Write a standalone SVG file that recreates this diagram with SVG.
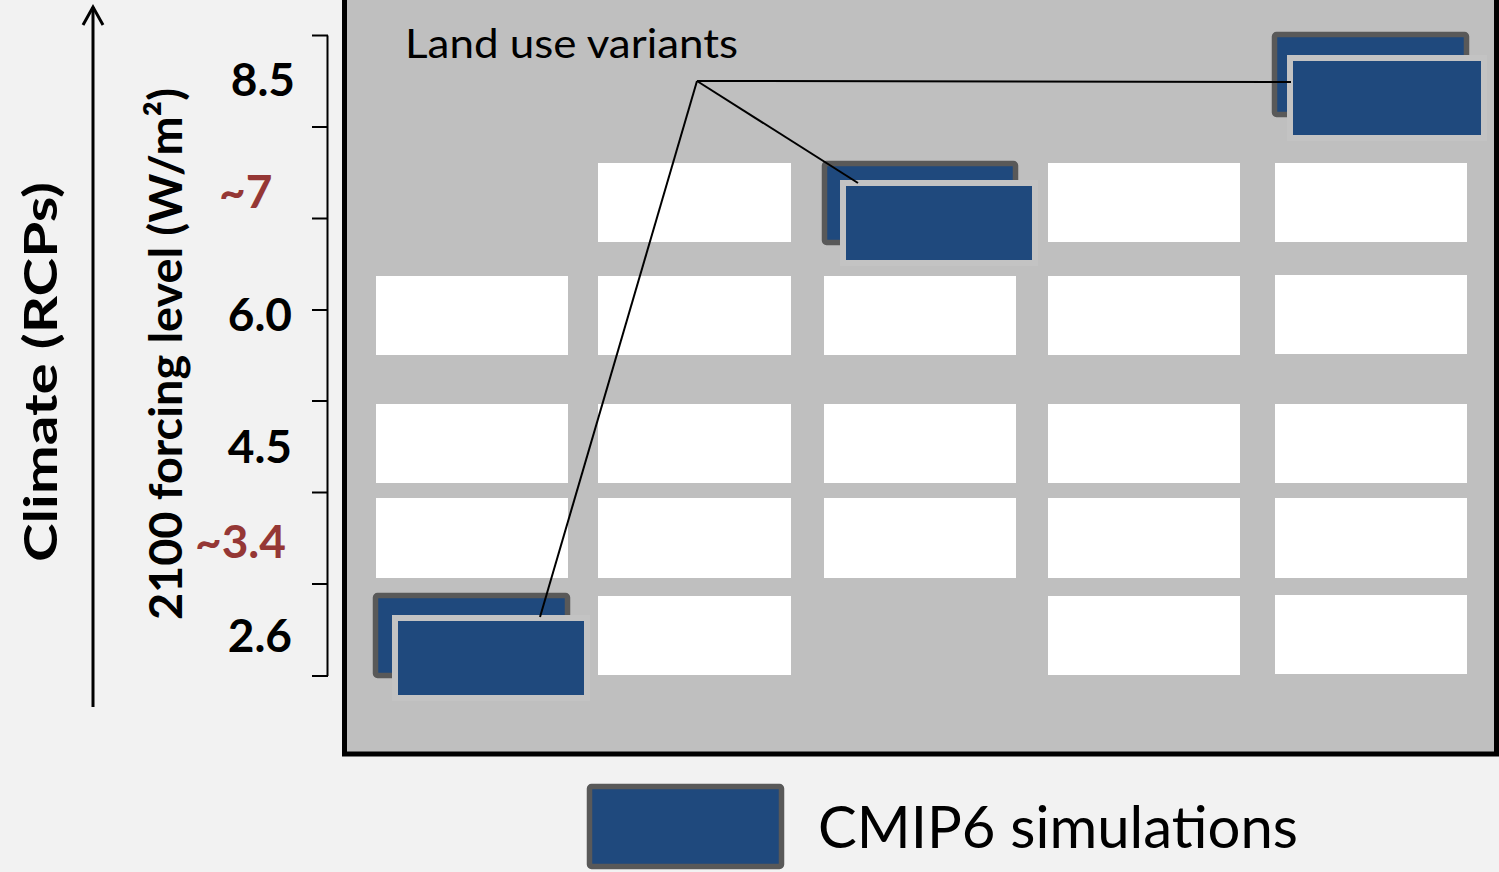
<svg xmlns="http://www.w3.org/2000/svg" width="1499" height="872" viewBox="0 0 1499 872">
  <style>
    .lbl { font-family: Lato, "Liberation Sans", sans-serif; font-weight: bold; font-size: 46px; fill: #000; }
    .red { fill: #953735; }
    .cell { fill: #ffffff; }
    .sim-back { fill: #1f497d; stroke: #595959; stroke-width: 5.5; }
    .sim-front { fill: #1f497d; stroke: #c3c3c3; stroke-width: 6; }
    .axis { stroke: #000; stroke-width: 2; fill: none; }
    .conn { stroke: #000; stroke-width: 2; fill: none; }
  </style>

  <!-- page background -->
  <rect x="0" y="0" width="1499" height="872" fill="#f2f2f2"/>

  <!-- climate arrow -->
  <g id="climate-axis">
    <line x1="93" y1="707" x2="93" y2="7" stroke="#000" stroke-width="3"/>
    <polyline points="83,25 93,7 103,25" fill="none" stroke="#000" stroke-width="3"/>
    <text class="lbl" font-size="60" transform="translate(57,562) rotate(-90)" textLength="380" lengthAdjust="spacingAndGlyphs">Climate (RCPs)</text>
  </g>

  <!-- forcing scale -->
  <g id="forcing-axis">
    <text class="lbl" font-size="48" transform="translate(182,620) rotate(-90)" textLength="532" lengthAdjust="spacingAndGlyphs">2100 forcing level (W/m²)</text>
    <path class="axis" d="M327.5,35.5 V676 M312,35.5 H328 M312,127 H328 M312,218.5 H328 M312,310 H328 M312,401 H328 M312,492.5 H328 M312,584 H328 M312,676 H328"/>
    <text class="lbl" x="295" y="96" text-anchor="end">8.5</text>
    <text class="lbl red" x="219" y="208">~7</text>
    <text class="lbl" x="292" y="331" text-anchor="end">6.0</text>
    <text class="lbl" x="292" y="463" text-anchor="end">4.5</text>
    <text class="lbl red" x="195" y="558">~3.4</text>
    <text class="lbl" x="292" y="652" text-anchor="end">2.6</text>
  </g>

  <!-- scenario matrix panel -->
  <g id="matrix">
    <rect x="344.5" y="-10" width="1152" height="764" fill="#bfbfbf" stroke="#000" stroke-width="5"/>
    <text x="405" y="58" font-family="Lato, 'Liberation Sans', sans-serif" font-size="40" textLength="333" lengthAdjust="spacingAndGlyphs" fill="#000">Land use variants</text>

    <!-- row ~7 -->
    <rect class="cell" x="598" y="163" width="193" height="79"/>
    <rect class="cell" x="1048" y="163" width="192" height="79"/>
    <rect class="cell" x="1275" y="163" width="192" height="79"/>
    <!-- row 6.0 -->
    <rect class="cell" x="376" y="276" width="192" height="79"/>
    <rect class="cell" x="598" y="276" width="193" height="79"/>
    <rect class="cell" x="824" y="276" width="192" height="79"/>
    <rect class="cell" x="1048" y="276" width="192" height="79"/>
    <rect class="cell" x="1275" y="275" width="192" height="79"/>
    <!-- row 4.5 -->
    <rect class="cell" x="376" y="404" width="192" height="79"/>
    <rect class="cell" x="598" y="404" width="193" height="79"/>
    <rect class="cell" x="824" y="404" width="192" height="79"/>
    <rect class="cell" x="1048" y="404" width="192" height="79"/>
    <rect class="cell" x="1275" y="404" width="192" height="79"/>
    <!-- row ~3.4 -->
    <rect class="cell" x="376" y="498" width="192" height="80"/>
    <rect class="cell" x="598" y="498" width="193" height="80"/>
    <rect class="cell" x="824" y="498" width="192" height="80"/>
    <rect class="cell" x="1048" y="498" width="192" height="80"/>
    <rect class="cell" x="1275" y="498" width="192" height="80"/>
    <!-- row 2.6 -->
    <rect class="cell" x="598" y="596" width="193" height="79"/>
    <rect class="cell" x="1048" y="596" width="192" height="79"/>
    <rect class="cell" x="1275" y="595" width="192" height="79"/>
  </g>

  <!-- CMIP6 simulation stacks -->
  <g id="sim-26">
    <rect class="sim-back" x="375.5" y="595.5" width="192" height="80" rx="2"/>
    <rect class="sim-front" x="395" y="618" width="192" height="80"/>
  </g>
  <g id="sim-70">
    <rect class="sim-back" x="824.5" y="163.5" width="191" height="79" rx="2"/>
    <rect class="sim-front" x="843" y="183" width="192" height="80"/>
  </g>
  <g id="sim-85">
    <rect class="sim-back" x="1274.5" y="34.5" width="192" height="80" rx="2"/>
    <rect class="sim-front" x="1290" y="58" width="194" height="80"/>
  </g>

  <!-- land use variant leaders -->
  <g id="connectors">
    <line class="conn" x1="697" y1="81" x2="540" y2="617"/>
    <line class="conn" x1="697" y1="81" x2="858" y2="183"/>
    <line class="conn" x1="697" y1="81" x2="1291" y2="82"/>
  </g>

  <!-- legend -->
  <g id="legend">
    <rect class="sim-back" x="589.5" y="786.5" width="192" height="80" rx="2"/>
    <text x="818" y="848" font-family="Lato, 'Liberation Sans', sans-serif" font-size="58" textLength="480" lengthAdjust="spacingAndGlyphs" fill="#000">CMIP6 simulations</text>
  </g>
</svg>
